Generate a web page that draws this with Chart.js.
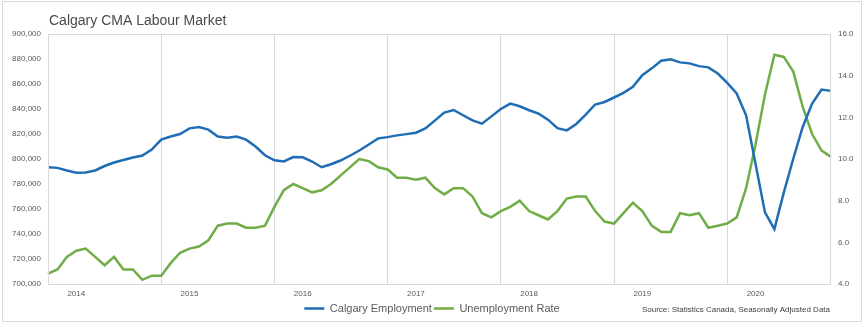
<!DOCTYPE html>
<html>
<head>
<meta charset="utf-8">
<title>Calgary CMA Labour Market</title>
<script src="https://cdn.jsdelivr.net/npm/chart.js@4/dist/chart.umd.min.js"></script>
<style>
  html, body { margin: 0; padding: 0; background: #ffffff; }
  #wrap { position: relative; width: 864px; height: 324px; }
</style>
</head>
<body>
<div id="wrap">
  <canvas id="labour-chart" width="864" height="324"></canvas>
</div>
<script>
// monthly categories, Oct 2013 - Sep 2020
const firstYear = 2013;
const firstMonth = 10;
const monthCount = 84;
const months = [];
for (let i = 0; i < monthCount; i++) {
    const m = (firstMonth - 1 + i) % 12 + 1;
    const y = firstYear + Math.floor((firstMonth - 1 + i) / 12);
    months.push(y + '-' + String(m).padStart(2, '0'));
}

// Calgary employment (persons)
const employment = [
    793400, 792900, 790800, 789000, 789200, 790800, 794400, 797200, 799200, 801200, 802800, 807500,
    815500, 818000, 820000, 824500, 825500, 823500, 818000, 817000, 818000, 815500, 810000, 803000,
    799000, 798000, 801500, 801400, 798000, 793400, 795800, 798800, 802600, 806800, 811600, 816500,
    817500, 818900, 819900, 821000, 824500, 830700, 837100, 839200, 835000, 830900, 828300, 834100,
    840000, 844300, 842200, 839000, 836300, 831500, 824700, 822900, 828000, 835500, 843600, 845600,
    849200, 852900, 857700, 867100, 872500, 878600, 879700, 877300, 876500, 874300, 873300, 868400,
    860900, 852400, 834900, 796100, 757300, 743900, 773300, 800200, 825600, 844300, 855600, 854500
];

// unemployment rate (%)
const unemployment = [
    4.5, 4.7, 5.3, 5.6, 5.7, 5.3, 4.9, 5.3, 4.7, 4.7, 4.2, 4.4,
    4.4, 5.0, 5.5, 5.7, 5.8, 6.1, 6.8, 6.9, 6.9, 6.7, 6.7, 6.8,
    7.7, 8.5, 8.8, 8.6, 8.4, 8.5, 8.8, 9.2, 9.6, 10.0, 9.9, 9.6,
    9.5, 9.1, 9.1, 9.0, 9.1, 8.6, 8.3, 8.6, 8.6, 8.2, 7.4, 7.2,
    7.5, 7.7, 8.0, 7.5, 7.3, 7.1, 7.5, 8.1, 8.2, 8.2, 7.5, 7.0,
    6.9, 7.4, 7.9, 7.5, 6.8, 6.5, 6.5, 7.4, 7.3, 7.4, 6.7, 6.8,
    6.9, 7.2, 8.6, 10.7, 13.1, 15.0, 14.9, 14.2, 12.5, 11.2, 10.4, 10.1
];

// axis ranges
const employmentMin = 700000;
const employmentMax = 900000;
const employmentStep = 20000;
const rateMin = 4;
const rateMax = 16;
const rateStep = 2;

const blue = '#1f6db4';
const green = '#70ad47';
const lineGrey = '#d9d9d9';
const textGrey = '#595959';
const fontFamily = "'Liberation Sans', Arial, sans-serif";

// frame, plot box, title and source note
const extrasPlugin = {
    id: 'extras',
    beforeDraw(chart) {
        const ctx = chart.ctx;
        ctx.save();
        ctx.strokeStyle = lineGrey;
        ctx.lineWidth = 1;
        ctx.strokeRect(2.5, 1.5, 859, 320);
        ctx.restore();
    },
    afterDraw(chart) {
        const ctx = chart.ctx;
        const a = chart.chartArea;
        ctx.save();
        ctx.strokeStyle = lineGrey;
        ctx.lineWidth = 1;
        ctx.strokeRect(Math.round(a.left) + 0.5, Math.round(a.top) + 0.5,
            Math.round(a.right - a.left) - 1, Math.round(a.bottom - a.top));

        ctx.fillStyle = '#4a4a4a';
        ctx.font = '14px ' + fontFamily;
        ctx.textBaseline = 'alphabetic';
        ctx.textAlign = 'left';
        ctx.fillText('Calgary CMA Labour Market', 49, 25);

        ctx.fillStyle = '#404040';
        ctx.font = '8px ' + fontFamily;
        ctx.textAlign = 'right';
        ctx.fillText('Source: Statistics Canada, Seasonally Adjusted Data', 830, 312);
        ctx.restore();
    }
};

const ctx = document.getElementById('labour-chart').getContext('2d');
new Chart(ctx, {
    type: 'line',
    data: {
        labels: months,
        datasets: [
            {
                label: 'Calgary Employment',
                data: employment,
                yAxisID: 'y',
                borderColor: blue,
                backgroundColor: blue,
                borderWidth: 2.5,
                pointRadius: 0,
                tension: 0,
                fill: false
            },
            {
                label: 'Unemployment Rate',
                data: unemployment,
                yAxisID: 'y1',
                borderColor: green,
                backgroundColor: green,
                borderWidth: 2.5,
                pointRadius: 0,
                tension: 0,
                fill: false
            }
        ]
    },
    options: {
        responsive: false,
        animation: false,
        layout: {
            padding: { top: 34, left: 0, right: 0, bottom: 0 }
        },
        scales: {
            x: {
                offset: false,
                border: { display: false },
                grid: {
                    drawTicks: false,
                    color: c => (c.index !== undefined && months[c.index] && months[c.index].endsWith('-10')) ? lineGrey : 'rgba(0,0,0,0)'
                },
                ticks: {
                    autoSkip: false,
                    maxRotation: 0,
                    padding: 5,
                    color: textGrey,
                    font: { family: fontFamily, size: 8 },
                    callback: function (val) {
                        const lbl = this.getLabelForValue(val);
                        return lbl.endsWith('-01') ? lbl.slice(0, 4) : '';
                    }
                },
                afterFit: scale => { scale.height = 17; }
            },
            y: {
                position: 'left',
                min: employmentMin,
                max: employmentMax,
                border: { display: false },
                grid: { display: false, drawTicks: false },
                ticks: {
                    stepSize: employmentStep,
                    padding: 7,
                    color: textGrey,
                    font: { family: fontFamily, size: 8 },
                    callback: v => v.toLocaleString('en-US')
                },
                afterFit: scale => { scale.width = 48; }
            },
            y1: {
                position: 'right',
                min: rateMin,
                max: rateMax,
                border: { display: false },
                grid: { display: false, drawTicks: false },
                ticks: {
                    stepSize: rateStep,
                    padding: 7,
                    color: textGrey,
                    font: { family: fontFamily, size: 8 },
                    callback: v => v.toFixed(1)
                },
                afterFit: scale => { scale.width = 33; }
            }
        },
        plugins: {
            legend: {
                position: 'bottom',
                labels: {
                    usePointStyle: true,
                    pointStyle: 'line',
                    pointStyleWidth: 20,
                    boxHeight: 11,
                    padding: 2,
                    color: textGrey,
                    font: { family: fontFamily, size: 11 }
                }
            },
            tooltip: { enabled: false }
        }
    },
    plugins: [extrasPlugin]
});
</script>
</body>
</html>
